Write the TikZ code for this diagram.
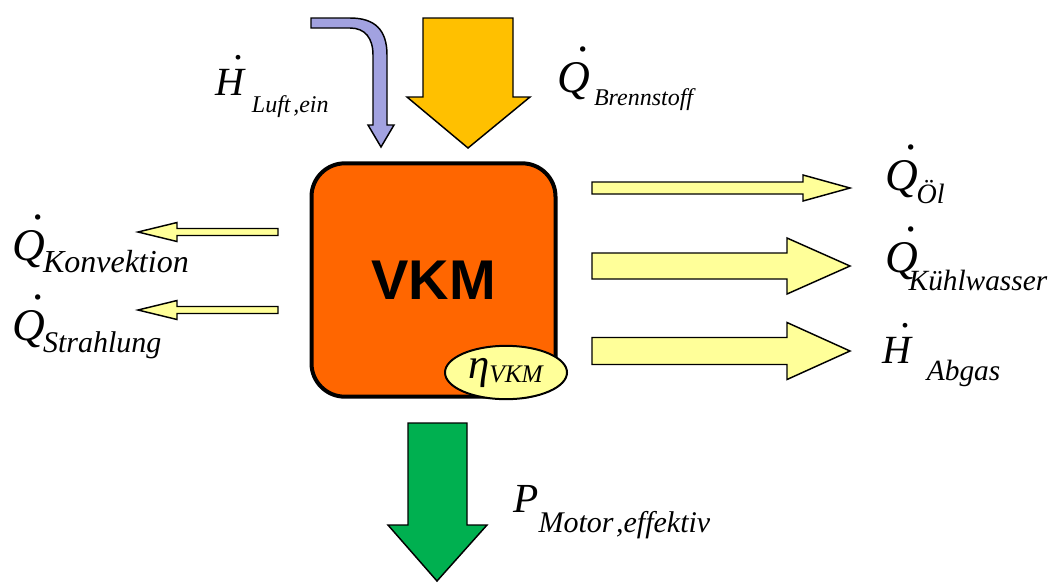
\documentclass[tikz,border=0pt]{standalone}
\usepackage{fontspec}
\setmainfont{Liberation Serif}
\setsansfont{Liberation Sans}
\usepackage{tikz}
\usetikzlibrary{positioning, shapes.geometric}

\definecolor{vkmOrange}{HTML}{FF6600}
\definecolor{fuelGold}{HTML}{FFC000}
\definecolor{powerGreen}{HTML}{00B050}
\definecolor{airBlue}{RGB}{162,162,224}
\definecolor{paleYellow}{HTML}{FFFF99}

% dotted symbols and flow label: symbol, subscript, size, gap, drop
\newcommand{\ddt}[1]{\rlap{\kern0.45em\smash{\raisebox{0.9em}{.}}}\textit{#1}}
\newcommand{\qdot}{{\fontsize{34}{34}\selectfont\ddt{Q}}}
\newcommand{\hdot}{{\fontsize{30}{30}\selectfont\ddt{H}}}
\newcommand{\flowlabel}[5]{#1\kern#4\raisebox{-#5}[0pt][0pt]{\fontsize{#3}{#3}\selectfont\itshape #2}}

\tikzstyle{engine}=[draw, line width=3pt, fill=vkmOrange, rounded corners=25pt, minimum width=183pt, minimum height=175pt, font=\sffamily\bfseries\fontsize{42}{42}\selectfont]
\tikzstyle{efficiency}=[ellipse, draw, line width=1.5pt, fill=paleYellow, minimum width=91.5pt, minimum height=40pt, inner sep=0pt]
\tikzstyle{label}=[anchor=base west, inner sep=0pt]
\tikzstyle{blockArrow}=[draw=black, line width=1.1pt]
\tikzstyle{heatArrow}=[blockArrow, fill=paleYellow]

\begin{document}
\begin{tikzpicture}[x=0.75pt, y=-0.75pt]
  \useasboundingbox (0,0) rectangle (1052,583);

  \node[engine] (vkm) at (433.5,280) {VKM};
  \node[efficiency] (eta) at (506,372.5) {{\fontsize{32}{32}\selectfont\textit{η}}\raisebox{-3pt}{\fontsize{19}{19}\selectfont\textit{VKM}}};

  % inflows
  \draw[blockArrow, fill=airBlue]
    (311,18) -- (350,18) .. controls (375,18) and (387,30) .. (387,55)
    -- (387,125) -- (394,125) -- (381,147) -- (368,125) -- (373,125) -- (373,55)
    .. controls (373,38) and (365,28) .. (350,28) -- (311,28) -- cycle;
  \draw[blockArrow, fill=fuelGold]
    (423,18) -- (513,18) -- (513,97) -- (530,97) -- (468,148) -- (407,97) -- (423,97) -- cycle;

  % losses
  \foreach \cy/\sw/\hw/\hb in {188/6/13/803, 266/13/28/787, 351/13.5/28.5/787}{
    \draw[heatArrow] (592,\cy-\sw) -- (\hb,\cy-\sw) -- (\hb,\cy-\hw) -- (850,\cy)
      -- (\hb,\cy+\hw) -- (\hb,\cy+\sw) -- (592,\cy+\sw) -- cycle;
  }
  \foreach \cy in {232, 310}{
    \draw[heatArrow] (278,\cy-3.5) -- (177,\cy-3.5) -- (177,\cy-9.5) -- (138,\cy)
      -- (177,\cy+9.5) -- (177,\cy+3.5) -- (278,\cy+3.5) -- cycle;
  }

  % useful power
  \draw[blockArrow, fill=powerGreen]
    (408,423) -- (467,423) -- (467,525) -- (487,525) -- (437,581) -- (388,525) -- (408,525) -- cycle;

  \node[label] (hLuft) at (215,95) {\flowlabel{\hdot}{Luft\kern2pt,ein}{18}{4.5pt}{12.75pt}};
  \node[label] (qBrenn) at (557,92) {\flowlabel{\qdot}{Brennstoff}{18}{3pt}{9.75pt}};
  \node[label] (qOel) at (885,190) {\flowlabel{\qdot}{Öl}{21}{-1pt}{10pt}};
  \node[label] (qKuehl) at (885,272) {\flowlabel{\qdot}{Kühlwasser}{22}{-7pt}{13.5pt}};
  \node[label] (hAbgas) at (882,363) {\flowlabel{\hdot}{Abgas}{22}{10.5pt}{12.75pt}};
  \node[label] (qKonv) at (12,260) {\flowlabel{\qdot}{Konvektion}{24}{-1.5pt}{9pt}};
  \node[label] (qStrahl) at (12,340) {\flowlabel{\qdot}{Strahlung}{22.5}{-1.5pt}{9pt}};
  \node[label] (pMotor) at (513,512) {\flowlabel{{\fontsize{31}{31}\selectfont\textit{P}}}{Motor\kern2pt,effektiv}{22.5}{0pt}{15pt}};
\end{tikzpicture}
\end{document}
